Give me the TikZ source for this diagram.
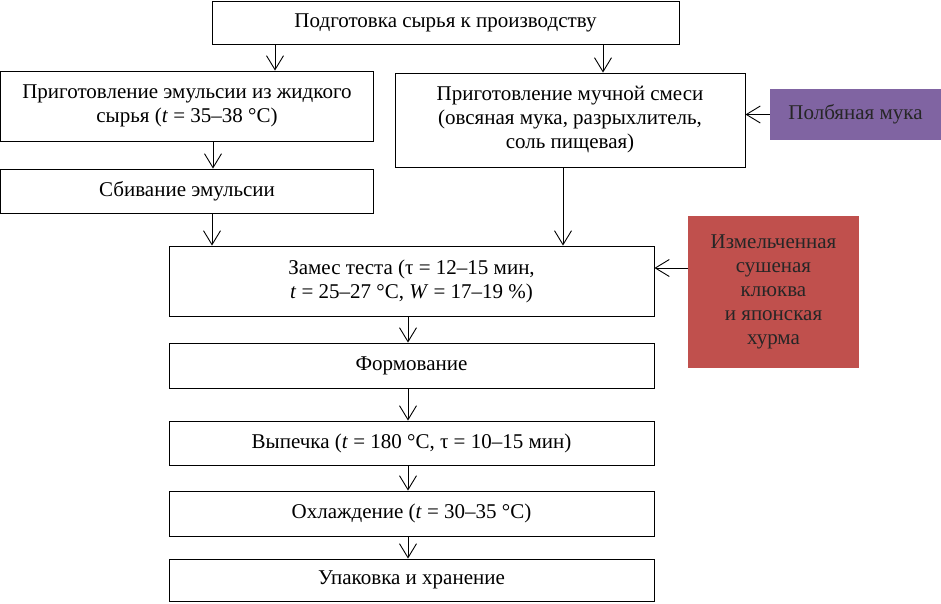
\documentclass[tikz,border=0pt]{standalone}
\usepackage{fontspec}
\setmainfont{Liberation Serif}
\usetikzlibrary{arrows.meta}
\definecolor{polba}{RGB}{128,100,162}
\definecolor{klukva}{RGB}{192,80,77}
\begin{document}
\begin{tikzpicture}[x=1pt,y=-1pt,
    blok/.style={draw, line width=0.9pt, align=center, inner sep=0pt,
        font=\fontsize{21}{24}\selectfont},
    dobavka/.style={blok, draw=none, text=black!85},
    strel/.style={-{Straight Barb[length=14pt,width=17pt]}, line width=0.9pt}]
    \useasboundingbox (0,0) rectangle (941,604);
    % verhnyaya chast
    \node[blok, minimum width=467, minimum height=43] (syrye) at (445.5,22.5) {Подготовка сырья к производству};
    \node[blok, minimum width=373, minimum height=70] (emuls) at (187,106) {Приготовление эмульсии из жидкого\\сырья (\textit{t} = 35–38 °C)};
    \node[blok, minimum width=350, minimum height=94] (smes) at (570,120) {Приготовление мучной смеси\\(овсяная мука, разрыхлитель,\\соль пищевая)};
    \node[dobavka, fill=polba, minimum width=171, minimum height=51] (polba) at (855.5,114.5) {Полбяная мука};
    \node[blok, minimum width=373, minimum height=44] (sbiv) at (187,191) {Сбивание эмульсии};
    % osnovnaya liniya
    \node[blok, minimum width=485, minimum height=70] (zames) at (411.5,281) {Замес теста (τ = 12–15 мин,\\\textit{t} = 25–27 °C, \textit{W} = 17–19 \%)};
    \node[dobavka, fill=klukva, minimum width=171, minimum height=152] (klukva) at (773.5,292) {Измельченная\\сушеная\\клюква\\и японская\\хурма};
    \node[blok, minimum width=485, minimum height=45] (form) at (411.5,365.5) {Формование};
    \node[blok, minimum width=485, minimum height=44] (vyp) at (411.5,443) {Выпечка (\textit{t} = 180 °C, τ = 10–15 мин)};
    \node[blok, minimum width=485, minimum height=45] (ohl) at (411.5,513.5) {Охлаждение (\textit{t} = 30–35 °C)};
    \node[blok, minimum width=485, minimum height=42] (upak) at (411.5,580) {Упаковка и хранение};
    % strelki
    \draw[strel] (syrye.south -| 275,0) -- (emuls.north -| 275,0);
    \draw[strel] (syrye.south -| 603,0) -- (smes.north -| 603,0);
    \draw[strel] (emuls.south -| 213,0) -- (sbiv.north -| 213,0);
    \draw[strel] (polba.west) -- (smes.east |- polba.west);
    \draw[strel] (sbiv.south -| 212,0) -- (zames.north -| 212,0);
    \draw[strel] (smes.south -| 563,0) -- (zames.north -| 563,0);
    \draw[strel] (klukva.west |- 0,268) -- (zames.east |- 0,268);
    \draw[strel] (zames.south -| 408,0) -- (form.north -| 408,0);
    \draw[strel] (form.south -| 408,0) -- (vyp.north -| 408,0);
    \draw[strel] (vyp.south -| 408,0) -- (ohl.north -| 408,0);
    \draw[strel] (ohl.south -| 408,0) -- (upak.north -| 408,0);
\end{tikzpicture}
\end{document}
